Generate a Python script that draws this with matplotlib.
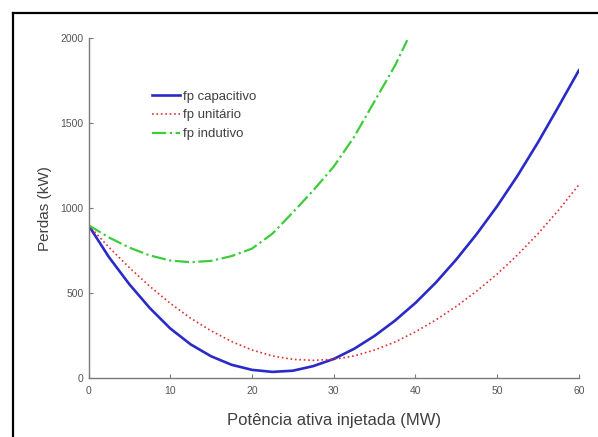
import matplotlib
matplotlib.use("Agg")
import matplotlib.pyplot as plt
from matplotlib.lines import Line2D

plt.rcParams['font.family'] = ['Liberation Sans', 'DejaVu Sans']

# Potencia injetada (MW)
potencia = [0, 2.5, 5, 7.5, 10, 12.5, 15, 17.5, 20, 22.5, 25, 27.5, 30,
            32.5, 35, 37.5, 40, 42.5, 45, 47.5, 50, 52.5, 55, 57.5, 60]

# Perdas (kW) para cada fator de potencia
perdas_capacitivo = [900, 712, 552, 412, 292, 198, 128, 78, 48, 36, 43, 70, 112,
                     172, 248, 338, 442, 562, 698, 848, 1012, 1192, 1388, 1598, 1812]
perdas_unitario = [900, 770, 650, 540, 440, 352, 278, 215, 165, 130, 110, 104, 110,
                   130, 165, 212, 272, 342, 422, 512, 612, 725, 850, 988, 1138]

# fp indutivo so vai ate ~39 MW
potencia_ind = [0, 2.5, 5, 7.5, 10, 12.5, 15, 17.5, 20, 22.5, 25, 27.5, 30,
                32.5, 35, 37.5, 39]
perdas_indutivo = [900, 828, 768, 722, 692, 682, 690, 718, 762, 850, 975, 1105, 1245,
                   1420, 1630, 1840, 1990]

x_ticks = [0, 10, 20, 30, 40, 50, 60]
y_ticks = [0, 500, 1000, 1500, 2000]

fig = plt.figure(figsize=(5.98, 4.37), dpi=100)
ax = fig.add_axes([0.148, 0.135, 0.82, 0.777])

ax.plot(potencia, perdas_capacitivo, color='#2a2ac8', lw=1.9, label='fp capacitivo')
ax.plot(potencia, perdas_unitario, color='#e03030', lw=1.2, ls=':', label='fp unit\u00e1rio')
ax.plot(potencia_ind, perdas_indutivo, color='#3ccc3c', lw=1.6, ls='-.', label='fp indutivo')

ax.set_xlim(0, 60)
ax.set_ylim(0, 2000)
ax.set_xticks(x_ticks)
ax.set_yticks(y_ticks)

# estilo parecido com o matlab (box off)
grey = '#7a7a7a'
for s in ['top', 'right']:
    ax.spines[s].set_visible(False)
for s in ['left', 'bottom']:
    ax.spines[s].set_color(grey)
    ax.spines[s].set_linewidth(1.0)
ax.tick_params(direction='in', length=3, width=0.8, colors=grey,
               labelcolor='#555555', labelsize=7.5)
ax.tick_params(axis='x', pad=6)

ax.set_xlabel('Pot\u00eancia ativa injetada (MW)', fontsize=12, color='#404040', labelpad=12)
ax.set_ylabel('Perdas (kW)', fontsize=11, color='#404040', labelpad=6)

leg = ax.legend(loc='upper left', bbox_to_anchor=(0.13, 0.847), frameon=False,
                borderaxespad=0, borderpad=0, fontsize=9.5, handlelength=2.1,
                handletextpad=0.25, labelspacing=0.5)
for t in leg.get_texts():
    t.set_color('#404040')

# moldura preta da imagem original (esquerda e topo)
fig.add_artist(Line2D([13 / 598, 13 / 598], [0, 1 - 13 / 437], color='black', lw=1.6,
                      transform=fig.transFigure))
fig.add_artist(Line2D([13 / 598, 1], [1 - 13 / 437, 1 - 13 / 437], color='black', lw=1.6,
                      transform=fig.transFigure))

fig.savefig('out.png', dpi=100)
